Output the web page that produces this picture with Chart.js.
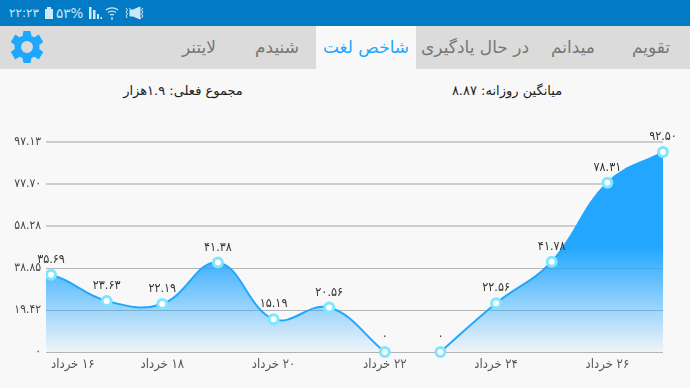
<!doctype html>
<html lang="fa">
<head>
<meta charset="utf-8">
<script src="https://cdn.jsdelivr.net/npm/chart.js"></script>
<style>
    html, body { margin: 0; padding: 0; background: #f8f8f8; overflow: hidden; }
    body { width: 690px; height: 388px; position: relative; font-family: "DejaVu Sans", sans-serif; }
    #status { position: absolute; left: 0; top: 0; width: 690px; height: 26px; background: #027bc4; }
    #status span { position: absolute; top: 4px; color: #cfe8f7; font-size: 13.5px; line-height: 18px; }
    #status svg { position: absolute; top: 0; left: 0; }
    #tabs { position: absolute; left: 0; top: 26px; width: 690px; height: 43px; background: #dbdbdb; }
    #tabs div { position: absolute; top: 0; height: 43px; line-height: 43px; transform: translateX(-50%); color: #777; font-size: 17px; white-space: nowrap; direction: rtl; }
    #tabs .on { color: #1ea7ff; background: #f8f8f8; width: 100px; text-align: center; }
    .head { position: absolute; top: 82px; transform: translateX(-50%); font-size: 13px; line-height: 18px; color: #222; direction: rtl; white-space: nowrap; }
    #gear { position: absolute; left: 10px; top: 30px; }
    canvas { position: absolute; left: 0; top: 69px; }
</style>
</head>
<body>
    <div id="status">
        <span style="left:9px;font-size:12px">۲۲:۲۳</span>
        <span style="left:56px">۵۳%</span>
        <svg width="690" height="26">
            <rect x="45" y="9" width="8" height="10" fill="#cfe8f7"/><rect x="47" y="7" width="4" height="2" fill="#cfe8f7"/>
            <path d="M89 19V7h2.500v12zM93 19V10h2.500v9zM97 19v-5h2v5zM100.500 19v-2h1.500v2z" fill="#cfe8f7"/>
            <path d="M106 10a10 10 0 0 1 12 0M108 12.500a7 7 0 0 1 8 0M110 15a3.500 3.500 0 0 1 4 0M112 17v3" stroke="#cfe8f7" stroke-width="1.300" fill="none"/>
            <path d="M130 10h3l7-3v12l-7-3h-3zM129 8l12 11" fill="#cfe8f7" stroke="#cfe8f7"/>
            <path d="M126 8l1.500 2-1.500 2 1.500 2-1.500 2 1.500 2M143 8l-1.500 2 1.500 2-1.500 2 1.500 2-1.500 2" fill="none" stroke="#cfe8f7"/>
        </svg>
    </div>
    <div id="tabs">
        <div style="left:651px">تقویم</div>
        <div style="left:573px">میدانم</div>
        <div style="left:475px">در حال یادگیری</div>
        <div class="on" style="left:366px">شاخص لغت</div>
        <div style="left:277px">شنیدم</div>
        <div style="left:199px">لایتنر</div>
    </div>
    <svg id="gear" width="34" height="34" viewBox="0 0 34 34">
        <path fill="#1ea7ff" fill-rule="evenodd" d="M13.500 1h7l1 5 3 1.300 4.300-2.800 4.400 7.500-3.900 3a11 11 0 0 1 0 4l3.900 3-4.400 7.500-4.300-2.800-3 1.300-1 5h-7l-1-5-3-1.300-4.300 2.800L.800 22l3.900-3a11 11 0 0 1 0-4L.800 12l4.400-7.500 4.300 2.800 3-1.300zM17 11a6 6 0 1 0 0 12 6 6 0 0 0 0-12z"/>
    </svg>
    <div class="head" style="left:183px">مجموع فعلی: ۱.۹هزار</div>
    <div class="head" style="left:507px">میانگین روزانه: ۸.۸۷</div>
    <canvas id="lineChart" width="690" height="319"></canvas>

    <script>
        // 15 is only the lead-in, it sits behind the left edge of the plot
        const days = [15, 16, 17, 18, 19, 20, 21, 22, 23, 24, 25, 26, 27];
        const seriesBefore = [37, 35.69, 23.63, 22.19, 41.38, 15.19, 20.56, 0, null, null, null, null, null];
        const seriesAfter = [null, null, null, null, null, null, null, null, 0, 22.56, 41.78, 78.31, 92.5];
        const yTickValues = [0, 19.42, 38.85, 58.28, 77.7, 97.13];
        const yTickLabels = ['۰', '۱۹.۴۲', '۳۸.۸۵', '۵۸.۲۸', '۷۷.۷۰', '۹۷.۱۳'];
        const xTickDays = [16, 18, 20, 22, 24, 26];
        const monthName = 'خرداد';

        const toPersian = s => String(s).replace(/\d/g, d => '۰۱۲۳۴۵۶۷۸۹'[d]);
        const valueText = v => v === 0 ? '۰' : toPersian(v.toFixed(2));

        function areaFill(context) {
            const area = context.chart.chartArea;
            if (!area) return '#22a6ff';
            const g = context.chart.ctx.createLinearGradient(0, area.top, 0, area.bottom);
            g.addColorStop(0, 'rgba(34,166,255,1)');
            g.addColorStop(0.5, 'rgba(34,166,255,1)');
            g.addColorStop(1, 'rgba(34,166,255,0.04)');
            return g;
        }

        // value labels above the points and the date labels under the axis
        const labelPlugin = {
            id: 'labelPlugin',
            afterDatasetsDraw(chart) {
                const ctx = chart.ctx;
                ctx.save();
                ctx.font = '12.5px "DejaVu Sans Condensed", "DejaVu Sans"';
                ctx.textBaseline = 'middle';
                ctx.textAlign = 'center';
                ctx.fillStyle = '#333';
                chart.data.datasets.forEach((ds, i) => {
                    chart.getDatasetMeta(i).data.forEach((pt, k) => {
                        if (ds.data[k] === null || days[k] < 16) return;
                        ctx.fillText(valueText(ds.data[k]), pt.x, pt.y - 15);
                    });
                });
                ctx.font = '13px "DejaVu Sans Condensed", "DejaVu Sans"';
                ctx.direction = 'rtl';
                ctx.fillStyle = '#555';
                xTickDays.forEach((d, i) => {
                    ctx.textAlign = i === 0 ? 'left' : 'center';
                    ctx.fillText(toPersian(d) + ' ' + monthName, chart.scales.x.getPixelForValue(d), chart.chartArea.bottom + 13);
                });
                ctx.restore();
            }
        };

        const lineStyle = {
            borderColor: '#22a6ff',
            borderWidth: 2,
            backgroundColor: areaFill,
            fill: 'origin',
            tension: 0.4,
            pointRadius: 4.5,
            pointBorderWidth: 3,
            pointBorderColor: '#80e5ff',
            pointBackgroundColor: '#fff',
            clip: { left: 0, top: 10, right: 10, bottom: 10 }
        };

        new Chart(document.getElementById('lineChart'), {
            type: 'line',
            data: {
                labels: days,
                datasets: [
                    { data: seriesBefore, ...lineStyle },
                    { data: seriesAfter, ...lineStyle }
                ]
            },
            options: {
                responsive: false,
                animation: false,
                layout: { autoPadding: false, padding: { top: 73, bottom: 36, right: 27, left: 0 } },
                plugins: { legend: { display: false }, tooltip: { enabled: false } },
                scales: {
                    x: {
                        type: 'linear',
                        min: 15.91,
                        max: 27,
                        afterFit: scale => { scale.height = 0; },
                        grid: { display: false },
                        border: { display: false },
                        ticks: { display: false }
                    },
                    y: {
                        min: 0,
                        max: 97.13,
                        afterBuildTicks: scale => { scale.ticks = yTickValues.map(v => ({ value: v })); },
                        afterFit: scale => { scale.width = 46; },
                        grid: {
                            drawTicks: false,
                            color: c => c.index >= 3 ? '#cdcdcd' : '#b4b4b4',
                            lineWidth: c => c.index >= 3 ? 2 : 1
                        },
                        border: { display: false },
                        ticks: {
                            padding: 5,
                            color: '#444',
                            font: { family: '"DejaVu Sans Condensed", "DejaVu Sans"', size: 12 },
                            callback: (v, i) => yTickLabels[i]
                        }
                    }
                }
            },
            plugins: [labelPlugin]
        });
    </script>
</body>
</html>
